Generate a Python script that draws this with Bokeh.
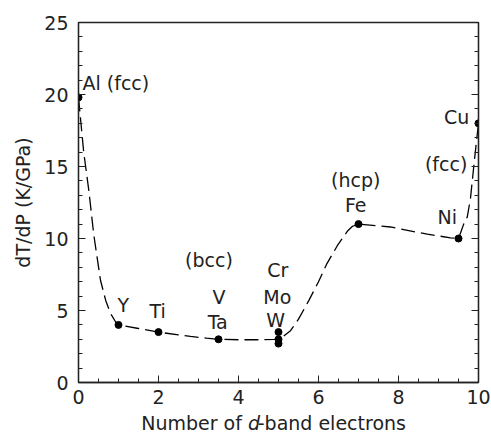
from bokeh.plotting import figure
from bokeh.layouts import column
from bokeh.models import Range1d, LinearAxis, Label, SingleIntervalTicker, ColumnDataSource
from bokeh.core.properties import value
from bokeh.embed import file_html
from bokeh.resources import INLINE

# measured points
elements = ["Al", "Y", "Ti", "Ta", "Cr", "Mo", "W", "Fe", "Ni", "Cu"]
n_d = [0, 1, 2, 3.5, 5, 5, 5, 7, 9.5, 10]
dTdP = [19.8, 4.0, 3.5, 3.0, 3.5, 3.0, 2.7, 11.0, 10.0, 18.0]

# dashed guide curve
curve_x = [0.0, 0.13, 0.26, 0.38, 0.55, 0.68, 0.8, 0.93, 1.0, 1.5, 2.0, 2.5, 2.8, 3.2, 3.5, 4.0, 4.5, 4.9,
           5.1, 5.3, 5.5, 5.76, 6.0, 6.2, 6.47, 6.72, 6.85, 7.0, 7.8, 8.72, 9.3, 9.5, 9.63, 9.72, 9.8, 9.9, 10.0]
curve_y = [19.8, 16.0, 13.3, 10.3, 7.1, 5.7, 4.8, 4.2, 4.0, 3.75, 3.5, 3.3, 3.2, 3.08, 3.0, 2.97, 2.97, 3.0,
           3.15, 3.6, 4.4, 5.7, 7.0, 8.2, 9.5, 10.5, 10.85, 11.0, 10.8, 10.3, 10.05, 10.0, 11.0, 11.5, 12.8, 15.5, 18.0]

label_texts = ["Al (fcc)", "Cu", "(fcc)", "(hcp)", "Fe", "Ni", "Y", "Ti", "(bcc)", "V", "Ta", "Cr", "Mo", "W"]
x_title = ["Number of ", "d", "-band electrons"]
y_title = "dT/dP (K/GPa)"
y_ticks = [0, 5, 10, 15, 20, 25]

FONT = "DejaVu Sans"
FS = "19px"
INK = "#222222"

p = figure(width=491, height=410, output_backend="svg", toolbar_location=None,
           x_range=Range1d(0, 10), y_range=Range1d(0, 25),
           min_border_left=78, min_border_right=13, min_border_top=22, min_border_bottom=28)
p.background_fill_color = "white"
p.border_fill_color = "white"
p.grid.visible = False
p.outline_line_color = INK
p.outline_line_width = 1.3

for ax in [p.xaxis[0], p.yaxis[0]]:
    ax.major_tick_in = 7
    ax.major_tick_out = 0
    ax.minor_tick_in = 4
    ax.minor_tick_out = 0
    ax.axis_line_color = INK
    ax.axis_line_width = 1.3
    ax.major_tick_line_color = INK
    ax.minor_tick_line_color = INK
    ax.major_label_text_font = FONT
    ax.major_label_text_font_size = FS
    ax.major_label_text_color = INK

p.xaxis[0].ticker = SingleIntervalTicker(interval=2, num_minor_ticks=4)
p.yaxis[0].ticker = SingleIntervalTicker(interval=5, num_minor_ticks=5)
p.xaxis[0].major_label_standoff = 7
p.yaxis[0].major_label_standoff = 10
p.yaxis[0].axis_label = y_title
p.yaxis[0].axis_label_text_font = FONT
p.yaxis[0].axis_label_text_font_size = FS
p.yaxis[0].axis_label_text_font_style = "normal"
p.yaxis[0].axis_label_text_color = INK
p.yaxis[0].axis_label_standoff = 7

right = LinearAxis(ticker=SingleIntervalTicker(interval=5, num_minor_ticks=5),
                   major_label_overrides={v: "" for v in y_ticks},
                   major_tick_in=7, major_tick_out=0,
                   minor_tick_in=4, minor_tick_out=0, axis_line_color=INK, axis_line_width=1.3,
                   major_tick_line_color=INK, minor_tick_line_color=INK)
p.add_layout(right, "right")

p.line(curve_x, curve_y, line_color="black", line_width=1.3, line_dash="14 6")
p.scatter(n_d, dTdP, size=7, color="black")

# label placement (annotation positions in data coordinates)
lab_x = [0.1, 9.77, 9.72, 6.93, 6.93, 9.22, 1.12, 1.98, 3.26, 3.51, 3.48, 4.98, 4.97, 4.93]
lab_y = [20.83, 18.47, 15.2, 14.03, 12.36, 11.48, 5.35, 4.95, 8.52, 5.97, 4.19, 7.83, 5.92, 4.31]
lab_align = ["left", "right", "right"] + ["center"] * 11
src = ColumnDataSource(dict(x=lab_x, y=lab_y, t=label_texts, a=lab_align))
p.text("x", "y", text="t", source=src, text_align="a", text_baseline="middle",
       text_font=value(FONT), text_font_size=FS, text_color=INK)

# x-axis title strip (pixel coordinates) with italic d
p2 = figure(width=491, height=24, output_backend="svg", toolbar_location=None, title=None,
            x_range=Range1d(0, 491), y_range=Range1d(0, 24),
            x_axis_type=None, y_axis_type=None,
            min_border_left=0, min_border_right=0, min_border_top=0, min_border_bottom=0)
p2.grid.visible = False
p2.outline_line_color = None
p2.background_fill_color = "white"
p2.border_fill_color = "white"
common = dict(y=12, text_font=FONT, text_font_size=FS, text_color=INK, text_baseline="middle")
p2.add_layout(Label(x=208, text=x_title[0], text_align="right", **common))
p2.add_layout(Label(x=208, text=x_title[1], text_align="left", text_font_style="italic", **common))
p2.add_layout(Label(x=220, text=x_title[2], text_align="left", **common))

layout = column(p, p2, spacing=0)
open("out.html", "w").write(file_html(layout, INLINE))
